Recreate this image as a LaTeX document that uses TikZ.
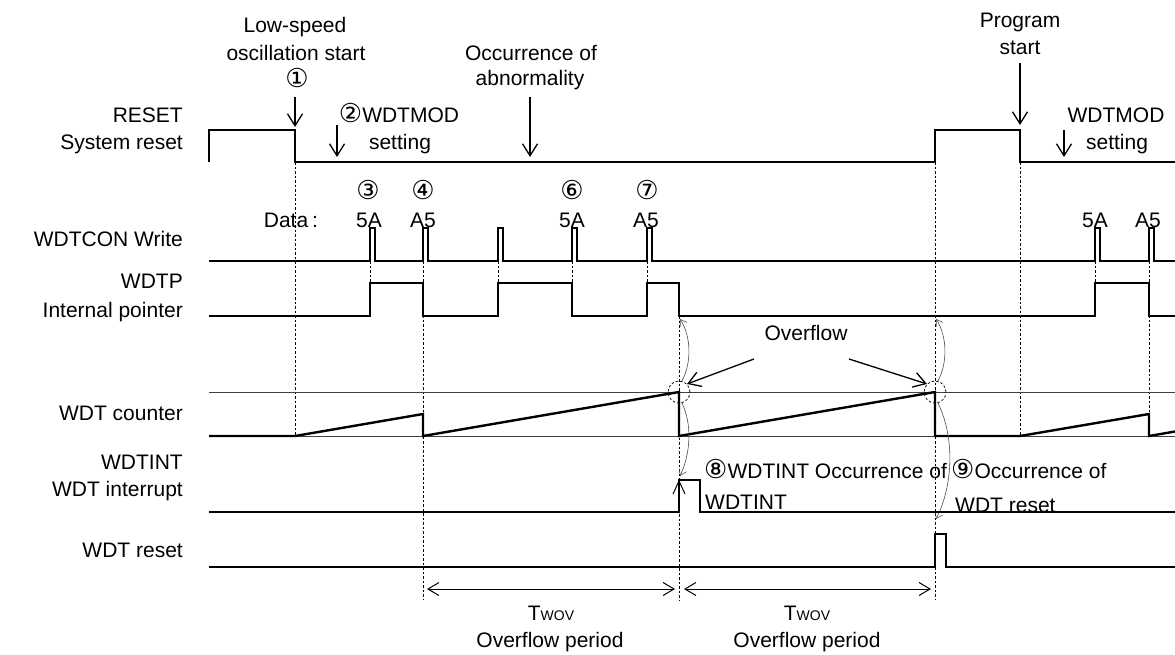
\documentclass[tikz,border=0pt]{standalone}
\usepackage{fontspec}
\setmainfont{Liberation Sans}
\newfontfamily\cfont{DejaVu Sans}
\newcommand{\cnum}[1]{{\fontsize{26}{26}\selectfont\cfont #1}}
\usetikzlibrary{arrows.meta}
\begin{document}
\begin{tikzpicture}[x=1pt,y=-1pt,
  sig/.style={line width=1.3pt, line join=miter},
  saw/.style={line width=2.4pt, line join=miter},
  refline/.style={line width=0.9pt, black!75},
  guide/.style={line width=0.7pt, dash pattern=on 2.5pt off 2pt},
  lab/.style={font=\fontsize{21}{25}\selectfont, inner sep=0pt},
  llab/.style={lab, anchor=base east},
  clab/.style={lab, anchor=base},
  wlab/.style={lab, anchor=base west},
  bigarrow/.style={line width=1.3pt, -{Straight Barb[length=12pt,width=15pt,line width=1.3pt]}},
  timearrow/.style={line width=1pt, {Straight Barb[length=11pt,width=13pt,line width=1pt]}-{Straight Barb[length=11pt,width=13pt,line width=1pt]}},
  curvearrow/.style={line width=0.6pt, black!70, -{Straight Barb[length=6pt,width=8pt,line width=0.6pt]}},
  ovcircle/.style={guide, circle, minimum size=22pt, inner sep=0pt, draw}
]
\useasboundingbox (0,0) rectangle (1175,654);

% ---- left labels
\node[llab] (lreset) at (183,122) {RESET};
\node[llab] (lsys) at (183,149) {System reset};
\node[llab] (lcon) at (183,246) {WDTCON Write};
\node[llab] (lwdtp) at (183,288) {WDTP};
\node[llab] (lptr) at (183,317) {Internal pointer};
\node[llab] (lcnt) at (183,420) {WDT counter};
\node[llab] (lint) at (183,469) {WDTINT};
\node[llab] (lintr) at (183,496) {WDT interrupt};
\node[llab] (lwrst) at (183,557) {WDT reset};

% ---- top labels
\node[clab] (t1) at (295,32) {Low-speed};
\node[clab] (t2) at (296,60) {oscillation start};
\node[clab] (c1) at (297,87) {\cnum{①}};
\node[clab] (t3) at (399,122) {\cnum{②}WDTMOD};
\node[clab] (t4) at (400,149) {setting};
\node[clab] (t5) at (531,60) {Occurrence of};
\node[clab] (t6) at (530,85) {abnormality};
\node[clab] (t7) at (1020,27) {Program};
\node[clab] (t8) at (1020,54) {start};
\node[clab] (t9) at (1116,122) {WDTMOD};
\node[clab] (t10) at (1117,149) {setting};

% ---- event arrows
\coordinate (a1s) at (295,97);  \coordinate (a1e) at (295,127);
\coordinate (a2s) at (337,125); \coordinate (a2e) at (337,157);
\coordinate (a3s) at (530,97);  \coordinate (a3e) at (530,157);
\coordinate (a4s) at (1020,63); \coordinate (a4e) at (1020,125);
\coordinate (a5s) at (1064,130); \coordinate (a5e) at (1064,157);
\draw[bigarrow] (a1s) -- (a1e);
\draw[bigarrow] (a2s) -- (a2e);
\draw[bigarrow] (a3s) -- (a3e);
\draw[bigarrow] (a4s) -- (a4e);
\draw[bigarrow] (a5s) -- (a5e);

% ---- data labels
\node[clab] (c3) at (368,199) {\cnum{③}};
\node[clab] (c4) at (423,199) {\cnum{④}};
\node[clab] (c6) at (572,199) {\cnum{⑥}};
\node[clab] (c7) at (647,199) {\cnum{⑦}};
\node[clab] (data) at (291,227) {Data\hspace{4pt}:};
\node[clab] (d1) at (369,227) {5A};
\node[clab] (d2) at (423,227) {A5};
\node[clab] (d3) at (572,227) {5A};
\node[clab] (d4) at (646,227) {A5};
\node[clab] (d5) at (1095,227) {5A};
\node[clab] (d6) at (1148,227) {A5};

% ---- dashed guide lines
\draw[guide] (295,162) -- (295,436);
\draw[guide] (423,261) -- (423,600);
\draw[guide] (679,316) -- (679,600);
\draw[guide] (935,162) -- (935,600);
\draw[guide] (1020,162) -- (1020,436);
\draw[guide] (1149,261) -- (1149,414);
\foreach \xx in {370,498,572,647,1095} \draw[guide] (\xx,261) -- (\xx,283);

% ---- RESET
\draw[sig] (209,162) -- (209,130) -- (295,130) -- (295,162) -- (935,162) -- (935,130) -- (1020,130) -- (1020,162) -- (1175,162);

% ---- WDTCON write
\draw[sig] (209,261)
  -- (370,261) -- (370,228) -- (375,228) -- (375,261)
  -- (423,261) -- (423,228) -- (428,228) -- (428,261)
  -- (498,261) -- (498,228) -- (503,228) -- (503,261)
  -- (572,261) -- (572,228) -- (577,228) -- (577,261)
  -- (647,261) -- (647,228) -- (652,228) -- (652,261)
  -- (1095,261) -- (1095,228) -- (1100,228) -- (1100,261)
  -- (1149,261) -- (1149,228) -- (1154,228) -- (1154,261)
  -- (1175,261);

% ---- WDTP
\draw[sig] (209,316) -- (370,316) -- (370,283) -- (423,283) -- (423,316)
  -- (498,316) -- (498,283) -- (572,283) -- (572,316)
  -- (647,316) -- (647,283) -- (679,283) -- (679,316)
  -- (1095,316) -- (1095,283) -- (1149,283) -- (1149,316) -- (1175,316);

% ---- WDT counter
\draw[refline] (209,392) -- (1175,392);
\draw[refline] (209,436) -- (1175,436);
\draw[saw] (209,436) -- (295,436) -- (423,414) -- (423,436) -- (679,392) -- (679,436)
  -- (935,392) -- (935,436) -- (1020,436) -- (1149,414) -- (1149,436) -- (1175,431.5);
\node[ovcircle] (ov1) at (679,392) {};
\node[ovcircle] (ov2) at (935,392) {};

% ---- Overflow label and arrows
\node[clab] (ovl) at (806,340) {Overflow};
\coordinate (ovla) at (754,359);
\coordinate (ovra) at (849,359);
\draw[bigarrow] (ovla) -- (ov1.north east);
\draw[bigarrow] (ovra) -- (ov2.north west);

% ---- curved thin arrows
\coordinate (p1) at (680,319);
\coordinate (p2) at (680,476);
\coordinate (p3) at (936,319);
\coordinate (p4) at (936,519);
\draw[curvearrow] (ov1.75) .. controls (692,362) and (691,336) .. (p1);
\draw[curvearrow] (ov1.-75) .. controls (692,424) and (691,452) .. (p2);
\draw[curvearrow] (ov2.75) .. controls (948,362) and (947,336) .. (p3);
\draw[curvearrow] (ov2.-75) .. controls (956,440) and (952,488) .. (p4);

% ---- WDTINT
\draw[sig] (209,512) -- (679,512) -- (679,480) -- (700,480) -- (700,512) -- (1175,512);
\draw[line width=1pt] (673,494) -- (679,481) -- (685,494);
\node[wlab] (e8) at (704,478) {\cnum{⑧}WDTINT Occurrence of};
\node[wlab] (e8b) at (705,509) {WDTINT};
\node[wlab] (e9) at (951,478) {\cnum{⑨}Occurrence of};
\node[wlab] (e9b) at (955,512) {WDT reset};

% ---- WDT reset
\draw[sig] (209,567) -- (935,567) -- (935,534) -- (946,534) -- (946,567) -- (1175,567);

% ---- periods
\coordinate (q1) at (427,589); \coordinate (q2) at (675,589);
\coordinate (q3) at (684,589); \coordinate (q4) at (931,589);
\draw[timearrow] (q1) -- (q2);
\draw[timearrow] (q3) -- (q4);
\node[clab] (tw1) at (551,620) {T{\fontsize{14}{16}\selectfont WOV}};
\node[clab] (tw2) at (807,620) {T{\fontsize{14}{16}\selectfont WOV}};
\node[clab] (op1) at (550,647) {Overflow period};
\node[clab] (op2) at (807,647) {Overflow period};
\end{tikzpicture}
\end{document}
